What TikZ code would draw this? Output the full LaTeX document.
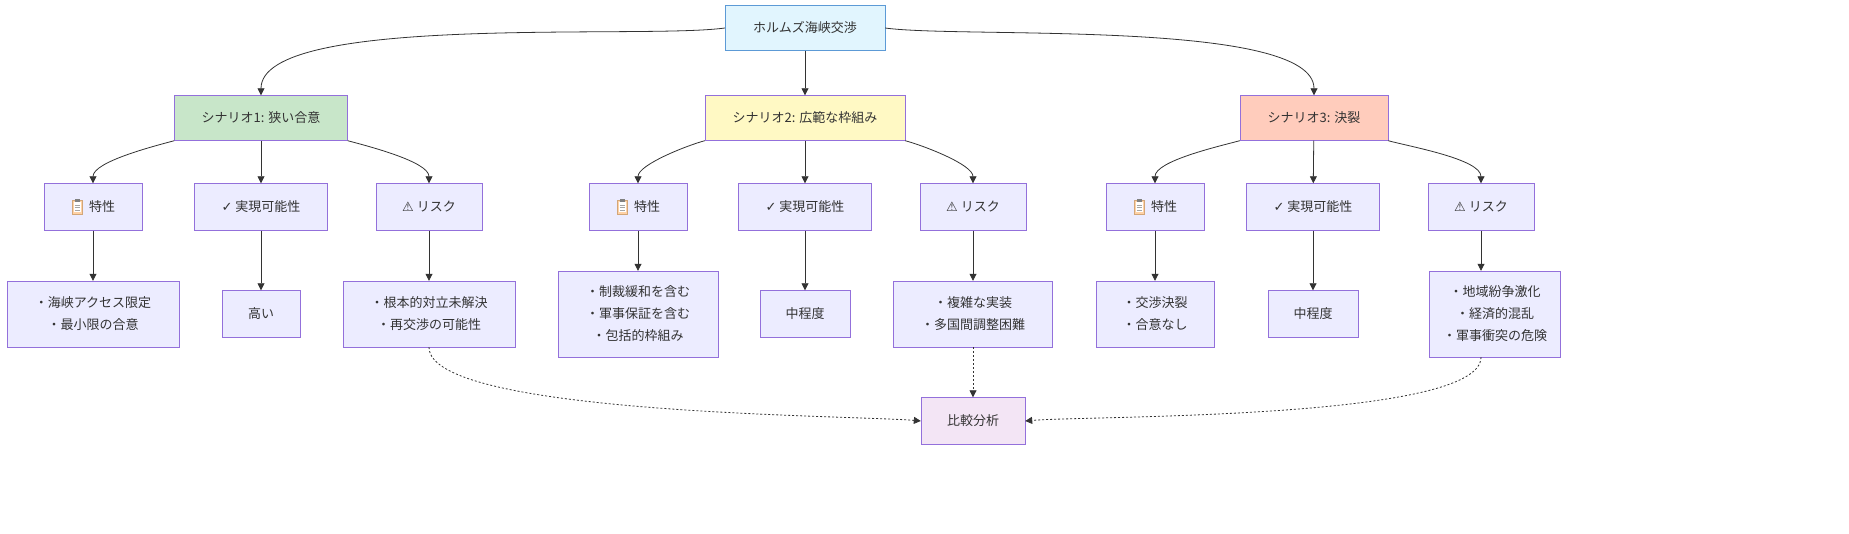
\documentclass[tikz,border=0pt]{standalone}
\usepackage{fontspec}
\setmainfont{Noto Sans CJK JP}
\newfontfamily\symf{DejaVu Sans}
\usetikzlibrary{arrows.meta}
\definecolor{boxfill}{HTML}{ECECFF}
\definecolor{boxline}{HTML}{9370DB}
\definecolor{topfill}{HTML}{E1F5FE}
\definecolor{topline}{HTML}{5C9AD6}
\definecolor{greenfill}{HTML}{C8E6C9}
\definecolor{yellowfill}{HTML}{FFF9C4}
\definecolor{redfill}{HTML}{FFCCBC}
\definecolor{purplefill}{HTML}{F3E5F5}
\definecolor{edgecol}{HTML}{333333}
\tikzset{
  box/.style={ % plain flowchart box
    draw=boxline, fill=boxfill, rectangle, align=center,
    inner sep=0pt, minimum height=47pt, text=edgecol,
    font=\fontsize{13}{22}\selectfont
  },
  flow/.style={-{Triangle[length=7pt,width=7pt]}, draw=edgecol, line width=0.8pt},
  dflow/.style={flow, dash pattern=on 2pt off 2pt}
}
\begin{document}
\begin{tikzpicture}[x=1pt,y=-1pt]
  \useasboundingbox (0,0) rectangle (1849,534);

  \node[box,fill=topfill,draw=topline,minimum width=160pt,minimum height=45pt] (top) at (805,28) {ホルムズ海峡交渉};
  \node[box,fill=greenfill,minimum width=173pt,minimum height=45pt] (s1) at (261,118) {シナリオ1: 狭い合意};
  \node[box,fill=yellowfill,minimum width=200pt,minimum height=45pt] (s2) at (805,118) {シナリオ2: 広範な枠組み};
  \node[box,fill=redfill,minimum width=148pt,minimum height=45pt] (s3) at (1314,118) {シナリオ3: 決裂};

  % second level
  \node[box,minimum width=98pt]  (f1) at (93,207)  {\hspace*{18pt}特性};
  \node[box,minimum width=133pt] (p1) at (261,207) {{\symf ✓} 実現可能性};
  \node[box,minimum width=106pt] (r1) at (429,207) {{\symf ⚠} リスク};
  \node[box,minimum width=98pt]  (f2) at (638,207) {\hspace*{18pt}特性};
  \node[box,minimum width=133pt] (p2) at (805,207) {{\symf ✓} 実現可能性};
  \node[box,minimum width=106pt] (r2) at (973,207) {{\symf ⚠} リスク};
  \node[box,minimum width=98pt]  (f3) at (1155,207) {\hspace*{18pt}特性};
  \node[box,minimum width=133pt] (p3) at (1313,207) {{\symf ✓} 実現可能性};
  \node[box,minimum width=106pt] (r3) at (1481,207) {{\symf ⚠} リスク};

  % clipboard icons
  \foreach \f in {f1,f2,f3} {
    \coordinate (ic) at ([xshift=-16pt]\f.center);
    \draw[fill=orange!35,draw=brown!70] ([shift={(-5,-7)}]ic) rectangle ([shift={(5,7)}]ic);
    \fill[white] ([shift={(-3.5,-5)}]ic) rectangle ([shift={(3.5,5.5)}]ic);
    \fill[gray] ([shift={(-2.5,-8)}]ic) rectangle ([shift={(2.5,-5)}]ic);
    \foreach \yy in {-2,0.5,3} \draw[gray!70,line width=0.5pt] ([shift={(-2.5,\yy)}]ic) -- ([shift={(2.5,\yy)}]ic);
  }

  % details
  \node[box,minimum width=172pt,minimum height=66pt] (d1) at (93,314) {・海峡アクセス限定\\・最小限の合意};
  \node[box,minimum width=78pt] (e1) at (261,314) {高い};
  \node[box,minimum width=172pt,minimum height=66pt] (g1) at (429,314) {・根本的対立未解決\\・再交渉の可能性};
  \node[box,minimum width=160pt,minimum height=86pt] (d2) at (638,314) {・制裁緩和を含む\\・軍事保証を含む\\・包括的枠組み};
  \node[box,minimum width=90pt] (e2) at (805,314) {中程度};
  \node[box,minimum width=159pt,minimum height=66pt] (g2) at (973,314) {・複雑な実装\\・多国間調整困難};
  \node[box,minimum width=118pt,minimum height=66pt] (d3) at (1155,314) {・交渉決裂\\・合意なし};
  \node[box,minimum width=90pt] (e3) at (1313,314) {中程度};
  \node[box,minimum width=131pt,minimum height=86pt] (g3) at (1495,314) {・地域紛争激化\\・経済的混乱\\・軍事衝突の危険};

  \node[box,fill=purplefill,minimum width=104pt] (cmp) at (973,421) {比較分析};

  \draw[flow] (top.west) to[out=188,in=90,looseness=0.45] (s1.north);
  \draw[flow] (top) -- (s2);
  \draw[flow] (top.east) to[out=-8,in=90,looseness=0.45] (s3.north);
  \foreach \s/\f/\p/\r in {s1/f1/p1/r1,s2/f2/p2/r2,s3/f3/p3/r3} {
    \draw[flow] (\s.south west) to[out=195,in=90,looseness=0.6] (\f.north);
    \draw[flow] (\s) -- (\p);
    \draw[flow] (\s.south east) to[out=-15,in=90,looseness=0.6] (\r.north);
  }
  \foreach \a/\b in {f1/d1,p1/e1,r1/g1,f2/d2,p2/e2,r2/g2,f3/d3,p3/e3} \draw[flow] (\a) -- (\b);
  \draw[flow] (r3.south) -- (r3.south |- g3.north);
  \draw[dflow] (g1.south) to[out=-90,in=175,looseness=0.35] (cmp.west);
  \draw[dflow] (g2) -- (cmp);
  \draw[dflow] (g3.south -| r3.south) to[out=-90,in=5,looseness=0.35] (cmp.east);
\end{tikzpicture}
\end{document}
